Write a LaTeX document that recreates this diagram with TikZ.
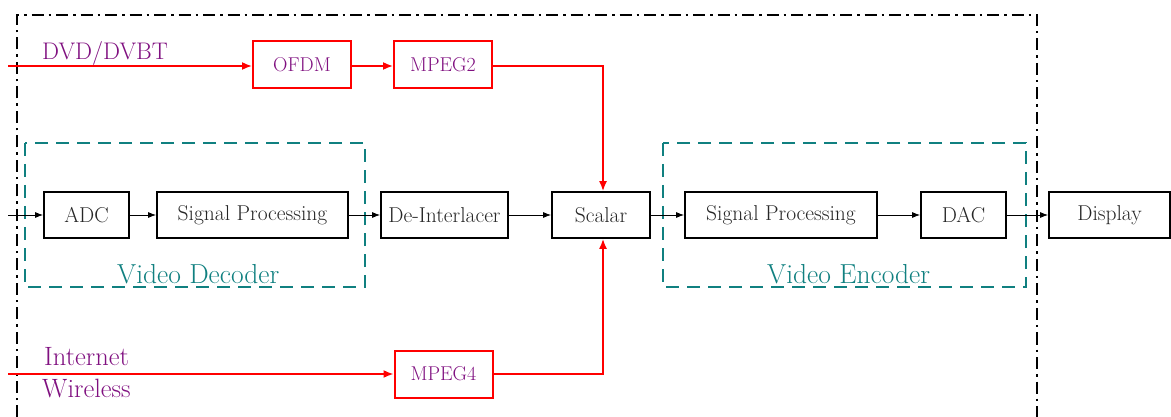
\documentclass[tikz,border=0pt]{standalone}
\usetikzlibrary{arrows.meta}
\definecolor{grpteal}{RGB}{16,128,128}
\definecolor{srcpurple}{RGB}{128,16,128}
\begin{document}
\begin{tikzpicture}[x=1pt,y=-1pt,
  blk/.style={draw=black, line width=1.8pt, minimum height=46pt, inner sep=0pt,
              font=\fontsize{21.5}{24}\selectfont, text=black!85},
  redblk/.style={draw=red, line width=2pt, minimum height=47pt, minimum width=98pt,
                 inner sep=0pt, font=\fontsize{20}{22}\selectfont, text=srcpurple},
  link/.style={-{Latex[length=8pt,width=6pt]}, line width=0.8pt},
  redlink/.style={red, line width=1.6pt, -{Latex[length=10pt,width=8pt]}},
  grp/.style={draw=grpteal, line width=2.6pt, dash pattern=on 13pt off 8pt},
  grplabel/.style={text=grpteal, inner sep=0pt, font=\fontsize{27.5}{30}\selectfont},
  srclabel/.style={text=srcpurple, inner sep=0pt, font=\fontsize{24}{28}\selectfont},
  netlabel/.style={text=srcpurple, inner sep=0pt, font=\fontsize{26.5}{30}\selectfont},
]
\useasboundingbox (0,0) rectangle (1171,417);

% decoder / encoder groups
\draw[grp] (25,143) rectangle (365,287);
\draw[grp] (663,143) rectangle (1026,287);
\node[grplabel, anchor=base west] (declabel) at (117,283) {Video Decoder};
\node[grplabel, anchor=base west] (enclabel) at (767,283) {Video Encoder};

% system boundary (open at the bottom)
\draw[line width=2.8pt, dash pattern=on 12pt off 5pt on 2.5pt off 5pt]
  (17,417) -- (17,15) -- (1037,15) -- (1037,417);

% main processing chain
\node[blk, minimum width=85pt]  (adc)     at (86.5,215)  {ADC};
\node[blk, minimum width=191pt] (sp1)     at (252.5,215) {Signal Processing};
\node[blk, minimum width=127pt] (deint)   at (444.5,215) {De-Interlacer};
\node[blk, minimum width=98pt]  (scalar)  at (601,215)   {Scalar};
\node[blk, minimum width=192pt] (sp2)     at (781,215)   {Signal Processing};
\node[blk, minimum width=85pt]  (dac)     at (963.5,215) {DAC};
\node[blk, minimum width=121pt] (display) at (1109.5,215){Display};

% digital sources
\node[redblk] (ofdm)  at (302,65)    {OFDM};
\node[redblk] (mpeg2) at (443,65)    {MPEG2};
\node[redblk] (mpeg4) at (443.5,374) {MPEG4};

\coordinate (inanalog) at (8,215);
\coordinate (indvb)    at (8,66);
\coordinate (innet)    at (8,374);

\node[srclabel, anchor=base west] (dvblabel)  at (42,60)  {DVD/DVBT};
\node[netlabel, anchor=base west] (netlabel)  at (44,365) {Internet};
\node[netlabel, anchor=base west] (wirelabel) at (42,397) {Wireless};

% black connectors
\draw[link] (inanalog) -- (adc);
\draw[link] (adc) -- (sp1);
\draw[link] (sp1) -- (deint);
\draw[link] (deint) -- (scalar);
\draw[link] (scalar) -- (sp2);
\draw[link] (sp2) -- (dac);
\draw[link] (dac) -- (display);

% red connectors
\draw[redlink] (indvb) -- (ofdm.west |- indvb);
\draw[redlink] (ofdm.east |- indvb) -- (mpeg2.west |- indvb);
\draw[redlink] (mpeg2.east |- indvb) -| ([xshift=2pt]scalar.north);
\draw[redlink] (innet) -- (mpeg4.west |- innet);
\draw[redlink] (mpeg4.east |- innet) -| ([xshift=2pt]scalar.south);
\end{tikzpicture}
\end{document}
